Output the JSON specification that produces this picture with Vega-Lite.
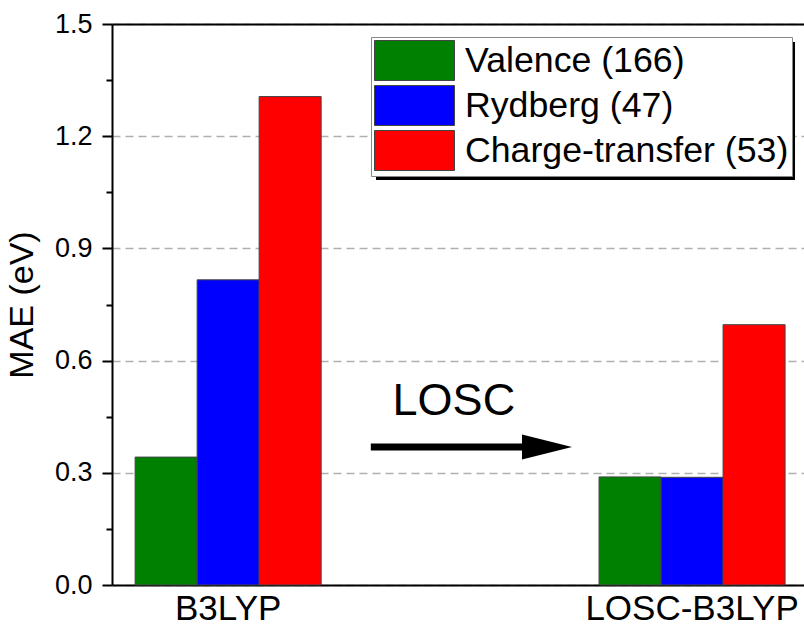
{
  "$schema": "https://vega.github.io/schema/vega-lite/v6.json",
  "width": 692,
  "height": 561,
  "autosize": {"type": "none"},
  "padding": {"left": 112, "top": 24, "right": 0, "bottom": 41},
  "background": "white",
  "config": {
    "font": "Liberation Sans",
    "view": {"stroke": null},
    "axis": {"labelColor": "black", "titleColor": "black", "labelFont": "Liberation Sans", "titleFont": "Liberation Sans"},
    "legend": {"labelFont": "Liberation Sans", "labelColor": "black"}
  },
  "datasets": {
    "mae": [
      {"method": "B3LYP", "type": "Valence (166)", "mae": 0.342},
      {"method": "B3LYP", "type": "Rydberg (47)", "mae": 0.816},
      {"method": "B3LYP", "type": "Charge-transfer (53)", "mae": 1.306},
      {"method": "LOSC-B3LYP", "type": "Valence (166)", "mae": 0.289},
      {"method": "LOSC-B3LYP", "type": "Rydberg (47)", "mae": 0.288},
      {"method": "LOSC-B3LYP", "type": "Charge-transfer (53)", "mae": 0.696}
    ],
    "notes": [
      {"part": "shadow", "x": 0.3815, "x2": 0.987, "y": 1.452, "y2": 1.083},
      {"part": "arrow", "x": 0.374, "x2": 0.6, "y": 0.369},
      {"part": "head", "x": 0.6286, "y": 0.369},
      {"part": "label", "x": 0.494, "y": 0.4545, "text": "LOSC"}
    ]
  },
  "layer": [
    {
      "data": {"name": "mae"},
      "mark": {"type": "bar", "stroke": "#444", "strokeWidth": 1},
      "encoding": {
        "x": {
          "field": "method",
          "type": "nominal",
          "sort": ["B3LYP", "LOSC-B3LYP"],
          "scale": {"paddingInner": 0.599, "paddingOuter": 0.0453, "align": 0.55},
          "axis": {
            "title": null,
            "labelAngle": 0,
            "labelFontSize": 35,
            "labelPadding": 6,
            "labelLimit": 0,
            "ticks": false,
            "domainColor": "black",
            "domainWidth": 2
          }
        },
        "xOffset": {
          "field": "type",
          "type": "nominal",
          "sort": ["Valence (166)", "Rydberg (47)", "Charge-transfer (53)"],
          "scale": {"paddingInner": 0, "paddingOuter": 0}
        },
        "y": {
          "field": "mae",
          "type": "quantitative",
          "scale": {"domain": [0, 1.5], "nice": false},
          "axis": {
            "title": "MAE (eV)",
            "titleFontSize": 34,
            "titleFontWeight": "normal",
            "titlePadding": 15,
            "values": [0, 0.3, 0.6, 0.9, 1.2, 1.5],
            "format": ".1f",
            "labelFontSize": 27,
            "labelPadding": 10,
            "tickSize": 10,
            "tickWidth": 2,
            "tickColor": "black",
            "domainColor": "black",
            "domainWidth": 2,
            "grid": true,
            "gridColor": "#b0b0b0",
            "gridDash": [8, 5],
            "gridWidth": 1.5
          }
        },
        "color": {
          "field": "type",
          "type": "nominal",
          "sort": ["Valence (166)", "Rydberg (47)", "Charge-transfer (53)"],
          "scale": {
            "domain": ["Valence (166)", "Rydberg (47)", "Charge-transfer (53)"],
            "range": ["#008000", "#0000FF", "#FF0000"]
          },
          "legend": {
            "orient": "none",
            "legendX": 259,
            "legendY": 13,
            "title": null,
            "symbolType": "M-1,-1H3V1H-1Z",
            "symbolSize": 1600,
            "symbolStrokeColor": "#444",
            "symbolStrokeWidth": 1,
            "symbolOpacity": 1,
            "labelFontSize": 35.7,
            "labelOffset": 50,
            "labelLimit": 0,
            "rowPadding": 0,
            "padding": 3,
            "fillColor": "white",
            "strokeColor": "#888"
          }
        }
      }
    },
    {
      "data": {"name": "notes"},
      "encoding": {
        "x": {
          "field": "x",
          "type": "quantitative",
          "scale": {"domain": [0, 1], "nice": false, "zero": false},
          "axis": {
            "orient": "top",
            "title": null,
            "labels": false,
            "ticks": false,
            "grid": false,
            "domainColor": "black",
            "domainWidth": 2
          }
        },
        "y": {
          "field": "y",
          "type": "quantitative",
          "axis": {
            "orient": "left",
            "title": null,
            "labels": false,
            "domain": false,
            "grid": false,
            "values": [0.15, 0.45, 0.75, 1.05, 1.35],
            "tickSize": 6,
            "tickWidth": 2,
            "tickColor": "black"
          }
        }
      },
      "layer": [
        {
          "transform": [{"filter": "datum.part === 'shadow'"}],
          "mark": {"type": "rect", "color": "black"},
          "encoding": {"x2": {"field": "x2"}, "y2": {"field": "y2"}}
        },
        {
          "transform": [{"filter": "datum.part === 'arrow'"}],
          "mark": {"type": "rule", "color": "black", "strokeWidth": 7, "strokeCap": "butt"},
          "encoding": {"x2": {"field": "x2"}}
        },
        {
          "transform": [{"filter": "datum.part === 'head'"}],
          "mark": {"type": "point", "shape": "M-1,-0.5L1,0L-1,0.5Z", "size": 2500, "filled": true, "color": "black", "opacity": 1}
        },
        {
          "transform": [{"filter": "datum.part === 'label'"}],
          "mark": {"type": "text", "fontSize": 45, "align": "center", "baseline": "alphabetic", "color": "black"},
          "encoding": {"text": {"field": "text"}}
        }
      ]
    }
  ],
  "resolve": {
    "scale": {"x": "independent"},
    "axis": {"x": "independent", "y": "independent"}
  }
}
